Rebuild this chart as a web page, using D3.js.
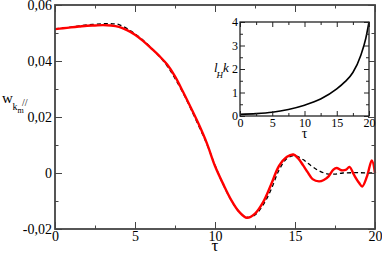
<!DOCTYPE html>
<html lang="en">
<head>
  <meta charset="UTF-8">
  <title>w_km vs tau</title>
  <style>
    body { margin: 0; background: #fff; }
    svg text { font-family: "Liberation Serif", "Times New Roman", serif; fill: #000; }
  </style>
</head>
<body>
  <svg id="chart" width="382" height="255"></svg>
  <script src="https://d3js.org/d3.v7.min.js"></script>
  <script>
    // main panel: red simulation curve (tau, w)
    const tauRed = [0, 0.5, 1, 1.5, 2, 2.5, 3, 3.5, 4, 4.5, 5, 5.5, 6, 6.5, 7, 7.5, 8, 8.5, 9, 9.5,
      10, 10.5, 11, 11.5, 12, 12.5, 13, 13.5, 14, 14.5, 14.9, 15.2, 15.5, 15.8, 16.1, 16.5, 16.8,
      17.1, 17.4, 17.6, 17.9, 18.2, 18.4, 18.7, 19.0, 19.2, 19.5, 19.8, 20];
    const wRed = [0.0514, 0.0517, 0.0520, 0.0523, 0.0526, 0.0527, 0.0528, 0.0527, 0.0522, 0.0510,
      0.0494, 0.0472, 0.0446, 0.0419, 0.0388, 0.0345, 0.0290, 0.0232, 0.0172, 0.0105,
      0.0025, -0.0038, -0.0095, -0.0138, -0.0160, -0.0145, -0.0105, -0.0042, 0.0025, 0.0058,
      0.0066, 0.0052, 0.0028, 0.0002, -0.0022, -0.0030, -0.0025, -0.0012, 0.0012, 0.0018,
      0.0010, 0.0012, 0.0022, -0.0008, -0.0035, -0.0048, -0.0012, 0.0045, 0.0000];

    // main panel: black dashed curve
    const tauDash = [0, 1, 2, 3, 3.5, 4, 5, 6, 7, 7.5, 8, 8.5, 9, 9.5, 10, 10.5, 11, 11.5, 12,
      12.5, 13, 13.5, 14, 14.5, 15, 15.5, 16, 16.5, 17, 17.5, 18, 19, 20];
    const wDash = [0.0515, 0.0521, 0.0529, 0.0533, 0.0533, 0.0530, 0.0497, 0.0448, 0.0383, 0.0338,
      0.0286, 0.0228, 0.0166, 0.0102, 0.0028, -0.0040, -0.0096, -0.0138, -0.0158, -0.0150,
      -0.0115, -0.0060, 0.0010, 0.0052, 0.0062, 0.0048, 0.0026, 0.0008, -0.0003, -0.0004,
      0.0000, 0.0001, 0.0000];

    // inset: l_H k vs tau
    const tauInset = [0, 2.5, 5, 7.5, 10, 12.5, 15, 16.25, 17.5, 18.75, 19.5, 20];
    const lhk = [0.07, 0.10, 0.16, 0.28, 0.46, 0.72, 1.15, 1.45, 1.85, 2.6, 3.3, 4.0];

    // ticks
    const xTicks = [0, 5, 10, 15, 20];
    const xMinor = [2.5, 7.5, 12.5, 17.5];
    const yTicks = [-0.02, 0, 0.02, 0.04, 0.06];
    const yTickLabels = ["-0,02", "0", "0,02", "0,04", "0,06"];
    const yMinor = [-0.01, 0.01, 0.03, 0.05];
    const insetYTicks = [0, 1, 2, 3, 4];
    const insetYMinor = [0.5, 1.5, 2.5, 3.5];

    const serif = '"Liberation Serif", "Times New Roman", serif';
    const svg = d3.select("#chart");
    const axisColor = "#444";

    function drawFrame(g, x, y, opts) {
      const w = x.range()[1] - x.range()[0];
      const h = y.range()[0] - y.range()[1];
      const major = opts.major, minor = opts.minor;
      // bottom and left, with labels
      g.append("g").attr("transform", `translate(0,${h})`)
        .call(d3.axisBottom(x).tickValues(opts.xTicks).tickSize(-major).tickPadding(opts.xPad));
      g.append("g")
        .call(d3.axisLeft(y).tickValues(opts.yTicks).tickSize(-major).tickPadding(opts.yPad)
          .tickFormat((d, i) => opts.yLabels[i]));
      g.append("g").attr("transform", `translate(0,${h})`)
        .call(d3.axisBottom(x).tickValues(opts.xMinor).tickSize(-minor).tickFormat(""));
      g.append("g")
        .call(d3.axisLeft(y).tickValues(opts.yMinor).tickSize(-minor).tickFormat(""));
      // mirrored ticks on top and right
      g.append("g")
        .call(d3.axisTop(x).tickValues(opts.xTicks).tickSize(-major).tickFormat(""));
      g.append("g")
        .call(d3.axisTop(x).tickValues(opts.xMinor).tickSize(-minor).tickFormat(""));
      g.append("g").attr("transform", `translate(${w},0)`)
        .call(d3.axisRight(y).tickValues(opts.yTicks).tickSize(-major).tickFormat(""));
      g.append("g").attr("transform", `translate(${w},0)`)
        .call(d3.axisRight(y).tickValues(opts.yMinor).tickSize(-minor).tickFormat(""));

      g.selectAll("g").attr("font-family", serif);
      g.selectAll(".domain").remove();
      g.selectAll(".tick line").attr("stroke", opts.color).attr("stroke-width", 1);
      g.selectAll(".tick text").attr("font-family", serif).style("font-family", serif)
        .style("font-size", opts.font + "px").attr("fill", "#000");
      g.append("rect").attr("width", w).attr("height", h)
        .attr("fill", "none").attr("stroke", opts.color).attr("stroke-width", opts.frameW);
    }

    function label(px, py, txt, size, italic) {
      return svg.append("text").attr("x", px).attr("y", py)
        .attr("font-family", serif).style("font-family", serif)
        .style("font-size", size + "px")
        .style("font-style", italic ? "italic" : "normal")
        .text(txt);
    }

    // ---- main panel ----
    const main = { left: 55, top: 5, width: 320, height: 224 };
    const x = d3.scaleLinear().domain([0, 20]).range([0, main.width]);
    const y = d3.scaleLinear().domain([-0.02, 0.06]).range([main.height, 0]);
    const gMain = svg.append("g").attr("transform", `translate(${main.left},${main.top})`);

    const line = d3.line().x(d => x(d[0])).y(d => y(d[1])).curve(d3.curveCatmullRom.alpha(0.5));

    gMain.append("path")
      .datum(d3.zip(tauDash, wDash))
      .attr("d", line)
      .attr("fill", "none").attr("stroke", "#000").attr("stroke-width", 1.3)
      .attr("stroke-dasharray", "4,3");

    gMain.append("path")
      .datum(d3.zip(tauRed, wRed))
      .attr("d", line)
      .attr("fill", "none").attr("stroke", "#ff0000").attr("stroke-width", 2.4)
      .attr("stroke-linejoin", "round");

    drawFrame(gMain, x, y, {
      xTicks, xMinor, yTicks, yMinor, yLabels: yTickLabels,
      major: 7, minor: 3.5, xPad: 2, yPad: 3, font: 14, color: axisColor, frameW: 1.8
    });

    // y axis title: w_{k_m} //
    label(2, 103, "w", 15);
    label(12.5, 110, "k", 10);
    label(17.5, 112.5, "m", 8);
    label(22, 106, "//", 10);

    // x axis title
    label(main.left + x(10), 251, "τ", 17).attr("text-anchor", "middle");

    // ---- inset ----
    const ins = { left: 240, top: 22, width: 129, height: 94 };
    const xi = d3.scaleLinear().domain([0, 20]).range([0, ins.width]);
    const yi = d3.scaleLinear().domain([0, 4]).range([ins.height, 0]);
    const gIns = svg.append("g").attr("transform", `translate(${ins.left},${ins.top})`);
    gIns.append("rect").attr("width", ins.width).attr("height", ins.height).attr("fill", "#fff");

    gIns.append("path")
      .datum(d3.zip(tauInset, lhk))
      .attr("d", d3.line().x(d => xi(d[0])).y(d => yi(d[1])).curve(d3.curveMonotoneX))
      .attr("fill", "none").attr("stroke", "#000").attr("stroke-width", 1.6);

    drawFrame(gIns, xi, yi, {
      xTicks, xMinor, yTicks: insetYTicks, yMinor: insetYMinor,
      yLabels: insetYTicks.map(String),
      major: 5, minor: 3, xPad: 2, yPad: 2, font: 12, color: "#222", frameW: 1.3
    });

    // inset labels
    label(214, 72, "l", 13, true);
    label(216.5, 78, "H", 9, true);
    label(223, 72, "k", 13, true);
    label(ins.left + xi(10), 138, "τ", 14).attr("text-anchor", "middle");
  </script>
</body>
</html>
